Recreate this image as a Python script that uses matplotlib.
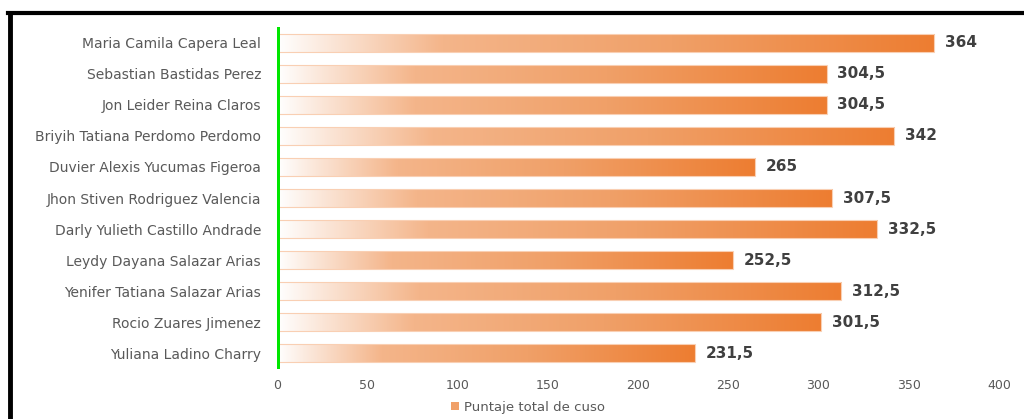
import matplotlib
matplotlib.use("Agg")
import matplotlib.pyplot as plt
import numpy as np
from matplotlib.colors import LinearSegmentedColormap
from matplotlib.patches import Patch
from matplotlib.lines import Line2D

names = [
    "Maria Camila Capera Leal",
    "Sebastian Bastidas Perez",
    "Jon Leider Reina Claros",
    "Briyih Tatiana Perdomo Perdomo",
    "Duvier Alexis Yucumas Figeroa",
    "Jhon Stiven Rodriguez Valencia",
    "Darly Yulieth Castillo Andrade",
    "Leydy Dayana Salazar Arias",
    "Yenifer Tatiana Salazar Arias",
    "Rocio Zuares Jimenez",
    "Yuliana Ladino Charry",
]
scores = [364, 304.5, 304.5, 342, 265, 307.5, 332.5, 252.5, 312.5, 301.5, 231.5]
score_labels = ["364", "304,5", "304,5", "342", "265", "307,5", "332,5", "252,5", "312,5", "301,5", "231,5"]
xticks = [0, 50, 100, 150, 200, 250, 300, 350, 400]
legend_label = "Puntaje total de cuso"

plt.rcParams['font.family'] = ['DejaVu Sans']

fig = plt.figure(figsize=(10.24, 4.19), dpi=100)
ax = fig.add_axes([277/1024, 1-369/419, (999-277)/1024, (369-27)/419])

cmap = LinearSegmentedColormap.from_list(
    "grad", [(0.0, "#FFFFFF"), (0.08, "#FBE6D8"), (0.25, "#F4B58A"), (0.6, "#F0A068"), (1.0, "#ED7D31")])
grad = np.linspace(0, 1, 256).reshape(1, -1)

y = np.arange(len(names))
bars = ax.barh(y, scores, height=0.58, facecolor="none", edgecolor="#F9CFB3", linewidth=0.8, zorder=3)
for b in bars:
    x0, y0 = b.get_x(), b.get_y()
    w, h = b.get_width(), b.get_height()
    im = ax.imshow(grad, cmap=cmap, aspect="auto", extent=[x0, x0 + w, y0 + h, y0],
                   interpolation="bilinear", zorder=2)
    im.set_clip_path(b)

for yi, v, lab in zip(y, scores, score_labels):
    ax.text(v + 6, yi, lab, va="center", ha="left", fontsize=11, fontweight="bold", color="#404040")

ax.set_xlim(0, 400)
ax.set_ylim(len(names) - 0.5, -0.5)
ax.set_yticks(y)
ax.set_yticklabels(names, fontsize=10, color="#595959")
ax.set_xticks(xticks)
ax.set_xticklabels([str(t) for t in xticks], fontsize=9, color="#595959")
ax.tick_params(length=0, pad=7)
ax.tick_params(axis="y", pad=11.5)
for s in ax.spines.values():
    s.set_visible(False)
ax.axvline(0, color="#00E600", linewidth=3.6, zorder=4)

leg = fig.legend(handles=[Patch(facecolor="#F0A068", edgecolor="none")], labels=[legend_label],
                 loc="center", bbox_to_anchor=(528/1024, 1-407/419), frameon=False, fontsize=9.5,
                 handlelength=0.6, handleheight=0.6, handletextpad=0.4, labelcolor="#595959")

fig.add_artist(Line2D([8/1024, 1.0], [1-13/419, 1-13/419], transform=fig.transFigure, color="black", linewidth=3))
fig.add_artist(Line2D([10/1024, 10/1024], [1-13/419, 0], transform=fig.transFigure, color="black", linewidth=3.5))

fig.savefig("out.png", dpi=100)
